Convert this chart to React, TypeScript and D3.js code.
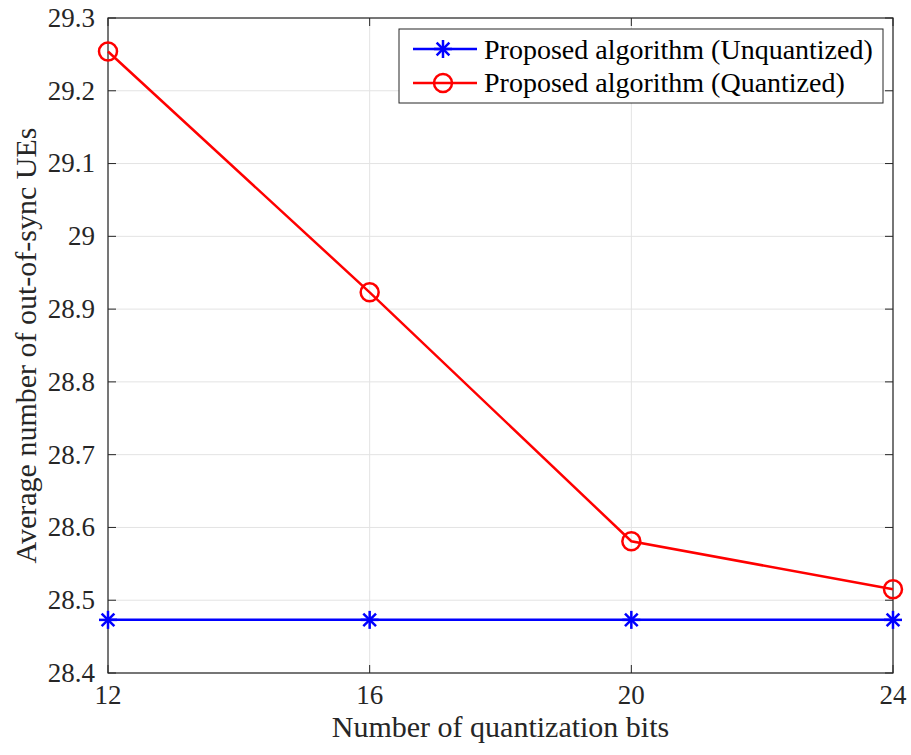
import React from "react";
import * as d3 from "d3";

const bits = [12, 16, 20, 24];
const unquantized = [28.473, 28.473, 28.473, 28.473];
const quantized = [29.254, 28.923, 28.581, 28.515];
const yTicks = [28.4, 28.5, 28.6, 28.7, 28.8, 28.9, 29, 29.1, 29.2, 29.3];
const seriesNames = ["Proposed algorithm (Unquantized)", "Proposed algorithm (Quantized)"];

const W = 911, H = 755;
const L = 108, R = 893, T = 18, B = 673;
const font = "'Liberation Serif', 'Times New Roman', serif";

function Star({ x, y, c }: { x: number; y: number; c: string }) {
  const r = 9;
  const d = r * 0.707;
  return (
    <g stroke={c} strokeWidth={2.5}>
      <line x1={x - r} y1={y} x2={x + r} y2={y} />
      <line x1={x} y1={y - r} x2={x} y2={y + r} />
      <line x1={x - d} y1={y - d} x2={x + d} y2={y + d} />
      <line x1={x - d} y1={y + d} x2={x + d} y2={y - d} />
    </g>
  );
}

export default function App() {
  const x = d3.scaleLinear().domain([12, 24]).range([L, R]);
  const y = d3.scaleLinear().domain([28.4, 29.3]).range([B, T]);
  const line = d3.line<number>().x((_, i) => x(bits[i])).y((v) => y(v));
  const axisColor = "#262626";
  return (
    <svg width={W} height={H} style={{ position: "absolute", left: 0, top: 0 }} fontFamily={font}>
      <rect x={0} y={0} width={W} height={H} fill="white" />
      {bits.map((b) => (
        <line key={"gx" + b} x1={x(b)} x2={x(b)} y1={T} y2={B} stroke="#e3e3e3" strokeWidth={1} />
      ))}
      {yTicks.map((t) => (
        <line key={"gy" + t} x1={L} x2={R} y1={y(t)} y2={y(t)} stroke="#e3e3e3" strokeWidth={1} />
      ))}
      <rect x={L} y={T} width={R - L} height={B - T} fill="none" stroke={axisColor} strokeWidth={1.2} />
      {yTicks.map((t) => (
        <g key={"ty" + t}>
          <line x1={L} x2={L + 8} y1={y(t)} y2={y(t)} stroke={axisColor} />
          <line x1={R} x2={R - 8} y1={y(t)} y2={y(t)} stroke={axisColor} />
          <text x={95} y={y(t)} dy="0.33em" textAnchor="end" fontSize={27} fill="#262626">
            {d3.format("")(+t.toFixed(1))}
          </text>
        </g>
      ))}
      {bits.map((b) => (
        <g key={"tx" + b}>
          <line x1={x(b)} x2={x(b)} y1={B} y2={B - 8} stroke={axisColor} />
          <line x1={x(b)} x2={x(b)} y1={T} y2={T + 8} stroke={axisColor} />
          <text x={x(b)} y={704} textAnchor="middle" fontSize={27} fill="#262626">
            {b}
          </text>
        </g>
      ))}
      <text x={(L + R) / 2} y={737} textAnchor="middle" fontSize={30} fill="#262626">
        Number of quantization bits
      </text>
      <text transform={`translate(36, ${(T + B) / 2}) rotate(-90)`} textAnchor="middle" fontSize={30} fill="#262626">
        Average number of out-of-sync UEs
      </text>
      <path d={line(unquantized) || ""} fill="none" stroke="#0000ff" strokeWidth={2.5} />
      {unquantized.map((v, i) => (
        <Star key={"s" + i} x={x(bits[i])} y={y(v)} c="#0000ff" />
      ))}
      <path d={line(quantized) || ""} fill="none" stroke="#ff0000" strokeWidth={2.5} />
      {quantized.map((v, i) => (
        <circle key={"c" + i} cx={x(bits[i])} cy={y(v)} r={9} fill="none" stroke="#ff0000" strokeWidth={2.5} />
      ))}
      <g>
        <rect x={399} y={29} width={484} height={74} fill="white" stroke={axisColor} strokeWidth={1} />
        <line x1={413} x2={477} y1={49} y2={49} stroke="#0000ff" strokeWidth={2.5} />
        <Star x={443} y={49} c="#0000ff" />
        <text x={484} y={59} fontSize={28} fill="#000">{seriesNames[0]}</text>
        <line x1={413} x2={477} y1={83} y2={83} stroke="#ff0000" strokeWidth={2.5} />
        <circle cx={443} cy={83} r={9} fill="none" stroke="#ff0000" strokeWidth={2.5} />
        <text x={484} y={92} fontSize={28} fill="#000">{seriesNames[1]}</text>
      </g>
    </svg>
  );
}
